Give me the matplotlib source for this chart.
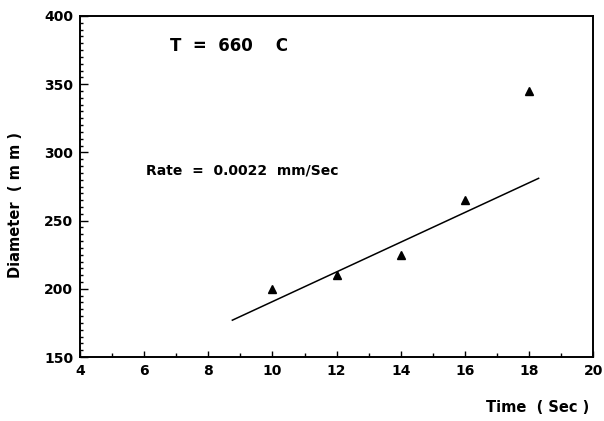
import matplotlib
matplotlib.use("Agg")
import matplotlib.pyplot as plt
from matplotlib.ticker import MultipleLocator

# measured points
time_s = [10, 12, 14, 16, 18]
diameter = [200, 210, 225, 265, 345]

# fitted line end points
fit_time = [8.75, 18.3]
fit_diam = [177, 281]

plt.rcParams['font.family'] = ['DejaVu Sans']
plt.rcParams['font.weight'] = 'bold'

fig = plt.figure(figsize=(6.04, 4.21), dpi=100)
ax = fig.add_axes([0.1325, 0.152, 0.8495, 0.81])

ax.plot(fit_time, fit_diam, color='black', linewidth=1.1)
ax.plot(time_s, diameter, linestyle='none', marker='^', color='black', markersize=6)

ax.set_xlim(4, 20)
ax.set_ylim(150, 400)
ax.xaxis.set_major_locator(MultipleLocator(2))
ax.xaxis.set_minor_locator(MultipleLocator(1))
ax.yaxis.set_major_locator(MultipleLocator(50))
ax.yaxis.set_minor_locator(MultipleLocator(5))

ax.tick_params(axis='both', which='both', direction='in', top=False, right=False,
               labelsize=10, width=1.0)
ax.tick_params(axis='x', which='major', length=4, pad=5)
ax.tick_params(axis='x', which='minor', length=3)
ax.tick_params(axis='y', which='major', length=6, pad=5)
ax.tick_params(axis='y', which='minor', length=2.5)
for lab in ax.get_xticklabels() + ax.get_yticklabels():
    lab.set_fontweight('bold')

for sp in ax.spines.values():
    sp.set_linewidth(1.4)

ax.set_ylabel('Diameter  ( m m )', fontsize=10.5, fontweight='bold')
ax.yaxis.set_label_coords(-0.111, 0.446)
ax.set_xlabel('Time  ( Sec )', fontsize=10.5, fontweight='bold')
ax.xaxis.set_label_coords(0.891, -0.125)

ax.text(6.8, 378, 'T  =  660    C', fontsize=12, fontweight='bold', va='center')
ax.text(6.05, 287, 'Rate  =  0.0022  mm/Sec', fontsize=10, fontweight='bold', va='center')

fig.savefig('out.png', dpi=100)
